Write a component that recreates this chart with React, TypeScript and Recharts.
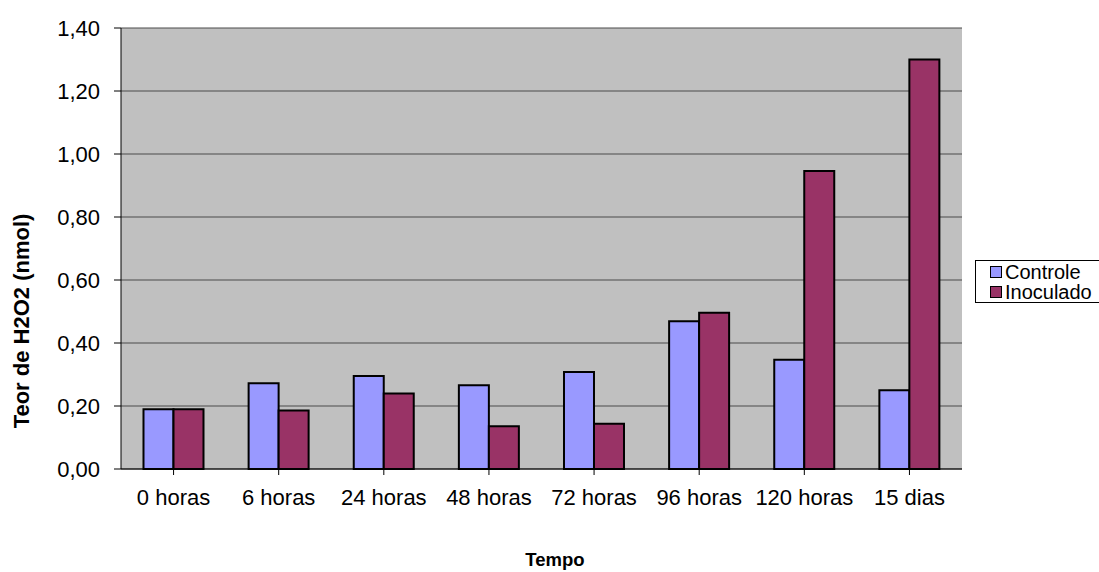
import React from "react";
import { Bar, BarChart, CartesianGrid, XAxis, YAxis } from "recharts";

const categories = [
  "0 horas",
  "6 horas",
  "24 horas",
  "48 horas",
  "72 horas",
  "96 horas",
  "120 horas",
  "15 dias",
];
const controle = [0.19, 0.272, 0.295, 0.266, 0.308, 0.469, 0.347, 0.25];
const inoculado = [0.19, 0.186, 0.24, 0.136, 0.144, 0.496, 0.946, 1.3];
const yTicks = [0, 0.2, 0.4, 0.6, 0.8, 1.0, 1.2, 1.4];

const FONT = '"Liberation Sans", Arial, sans-serif';

const series = [
  { key: "controle", name: "Controle", color: "#9999FF" },
  { key: "inoculado", name: "Inoculado", color: "#993366" },
];

const data = categories.map((name, i) => ({
  name,
  controle: controle[i],
  inoculado: inoculado[i],
}));

const fmt = (v: number) => v.toFixed(2).replace(".", ",");

function LegendBox() {
  return (
    <div
      style={{
        position: "absolute",
        left: 975,
        top: 260,
        width: 130,
        height: 43,
        border: "1px solid #000",
        background: "#fff",
        padding: "1px 0 0 14px",
        fontSize: 20,
        lineHeight: "20px",
        color: "#000",
        boxSizing: "border-box",
      }}
    >
      {series.map((s) => (
        <div key={s.key} style={{ display: "flex", alignItems: "center" }}>
          <span
            style={{
              display: "inline-block",
              width: 10,
              height: 10,
              background: s.color,
              border: "1px solid #000",
              marginRight: 3,
            }}
          />
          {s.name}
        </div>
      ))}
    </div>
  );
}

export default function App() {
  return (
    <div
      style={{
        position: "absolute",
        left: 0,
        top: 0,
        width: 1099,
        height: 572,
        background: "#fff",
        fontFamily: FONT,
        overflow: "hidden",
      }}
    >
      <BarChart
        width={1099}
        height={572}
        data={data}
        margin={{ top: 28, right: 137, left: 0, bottom: 73 }}
        barCategoryGap="21.4%"
        barGap={0}
      >
        <CartesianGrid
          yAxisId="left"
          vertical={false}
          stroke="#4a4a4a"
          fill="#C0C0C0"
          fillOpacity={1}
        />
        <XAxis
          dataKey="name"
          height={30}
          stroke="#000"
          tickSize={6}
          tickMargin={14}
          tick={{ fill: "#000", fontSize: 22, fontFamily: FONT }}
          interval={0}
        />
        <YAxis
          yAxisId="left"
          width={121}
          domain={[0, 1.4]}
          ticks={yTicks}
          tickFormatter={fmt}
          stroke="#000"
          tickSize={7}
          tickMargin={14}
          tick={{ fill: "#000", fontSize: 22, fontFamily: FONT }}
        />
        <YAxis
          yAxisId="right"
          orientation="right"
          width={0}
          domain={[0, 1.4]}
          tick={false}
          tickLine={false}
          stroke="#808080"
        />
        {series.map((s) => (
          <Bar
            key={s.key}
            yAxisId="left"
            dataKey={s.key}
            name={s.name}
            fill={s.color}
            stroke="#000"
            strokeWidth={2}
            isAnimationActive={false}
          />
        ))}
      </BarChart>
      <LegendBox />
      <div
        style={{
          position: "absolute",
          left: 22,
          top: 321,
          transform: "translate(-50%, -50%) rotate(-90deg)",
          whiteSpace: "nowrap",
          fontWeight: "bold",
          fontSize: 22,
          color: "#000",
        }}
      >
        Teor de H2O2 (nmol)
      </div>
      <div
        style={{
          position: "absolute",
          left: 555,
          top: 560,
          transform: "translate(-50%, -50%)",
          whiteSpace: "nowrap",
          fontWeight: "bold",
          fontSize: 18.5,
          color: "#000",
        }}
      >
        Tempo
      </div>
    </div>
  );
}
